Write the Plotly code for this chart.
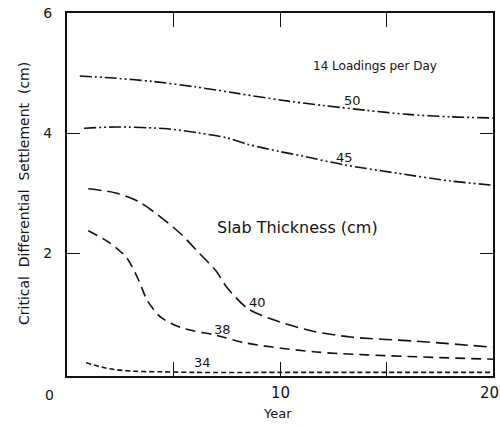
import plotly.graph_objects as go

# Critical differential settlement vs. year, by slab thickness (14 loadings per day)
years_50 = [0.6, 2, 4, 6, 8, 10, 12, 14, 16, 18, 20]
settle_50 = [4.95, 4.92, 4.86, 4.77, 4.66, 4.55, 4.46, 4.38, 4.31, 4.27, 4.25]

years_45 = [0.8, 2.3, 4.7, 6.2, 7.5, 8.5, 10, 11, 13, 15.5, 18, 20]
settle_45 = [4.08, 4.1, 4.07, 4.0, 3.92, 3.81, 3.69, 3.62, 3.47, 3.33, 3.2, 3.13]

years_40 = [1, 2.3, 3.4, 4.5, 5.4, 6.2, 7.0, 7.5, 8.5, 10, 11.5, 13.3, 16.4, 20]
settle_40 = [3.07, 3.0, 2.85, 2.57, 2.3, 2.0, 1.7, 1.43, 1.07, 0.85, 0.7, 0.6, 0.53, 0.43]

years_38 = [1, 2, 2.8, 3.4, 3.75, 4.4, 5.4, 7, 8.4, 11.7, 16.4, 20]
settle_38 = [2.37, 2.17, 1.92, 1.52, 1.22, 0.93, 0.75, 0.63, 0.5, 0.35, 0.27, 0.23]

years_34 = [0.9, 2, 3.1, 4.5, 6, 10, 15, 20]
settle_34 = [0.17, 0.07, 0.03, 0.02, 0.01, 0.01, 0.01, 0.01]

x_tick_vals = [5, 10, 15]
x_label_vals = [10, 20]
x_label_text = ["10", "20"]
y_tick_vals = [2, 4, 6]
y_tick_text = ["2", "4", "6"]

FONT = "DejaVu Sans"
INK = "#111111"

series = [
    (years_50, settle_50, "12px,3px,2px,3px,2px,3px"),
    (years_45, settle_45, "12px,3px,2px,3px,2px,3px"),
    (years_40, settle_40, "13px,6px"),
    (years_38, settle_38, "10px,6px"),
    (years_34, settle_34, "5px,3px"),
]

fig = go.Figure()
for xs, ys, dash in series:
    fig.add_trace(go.Scatter(
        x=xs, y=ys, mode="lines",
        line=dict(color=INK, width=1.6, dash=dash, shape="spline", smoothing=0.8),
        showlegend=False, hoverinfo="skip",
    ))

labels = [
    (14.45, 5.12, "14 Loadings per Day", 12),
    (13.4, 4.54, "50", 13),
    (13.05, 3.6, "45", 13),
    (10.8, 2.42, "Slab Thickness (cm)", 16),
    (8.95, 1.18, "40", 13),
    (7.3, 0.72, "38", 13),
    (6.35, 0.18, "34", 13),
]
for x, y, t, s in labels:
    fig.add_annotation(x=x, y=y, text=t, showarrow=False,
                       font=dict(family=FONT, size=s, color=INK))

# x tick labels below the axis; the last one is kept inside the page edge
for xv, txt in zip(x_label_vals, x_label_text):
    at_edge = xv == 20
    fig.add_annotation(x=xv, xref="x", y=-0.047, yref="paper", text=txt,
                       xanchor="center", yanchor="middle", showarrow=False,
                       xshift=-4 if at_edge else 0,
                       font=dict(family=FONT, size=15, color=INK))

# corner origin label and axis titles
fig.add_annotation(xref="paper", yref="paper", x=-0.04, y=-0.052, text="0",
                   xanchor="center", yanchor="middle", showarrow=False,
                   font=dict(family=FONT, size=14, color=INK))
fig.add_annotation(xref="paper", yref="paper", x=0.495, y=-0.102, text="Year",
                   xanchor="center", yanchor="middle", showarrow=False,
                   font=dict(family=FONT, size=13, color=INK))
fig.add_annotation(xref="paper", yref="paper", x=-0.101, y=0.504,
                   text="Critical  Differential  Settlement  (cm)", textangle=-90,
                   xanchor="center", yanchor="middle", showarrow=False,
                   font=dict(family=FONT, size=14, color=INK))

fig.update_xaxes(
    range=[0, 20], tickvals=x_tick_vals, showticklabels=False,
    ticks="inside", ticklen=14, tickwidth=1.2, tickcolor=INK,
    showline=True, linewidth=2, linecolor=INK, mirror="ticks",
    showgrid=False, zeroline=False, automargin=False,
)
fig.update_yaxes(
    range=[-0.05, 6], tickvals=y_tick_vals, ticktext=y_tick_text,
    ticks="inside", ticklen=13, tickwidth=1.2, tickcolor=INK,
    showline=True, linewidth=2, linecolor=INK, mirror="ticks",
    showgrid=False, zeroline=False, automargin=False,
    tickfont=dict(family=FONT, size=14, color=INK), ticklabelstandoff=10,
)

fig.update_layout(
    width=500, height=427,
    margin=dict(l=67, r=7, t=13, b=51),
    paper_bgcolor="white", plot_bgcolor="white",
)

fig.write_html("out.html")
